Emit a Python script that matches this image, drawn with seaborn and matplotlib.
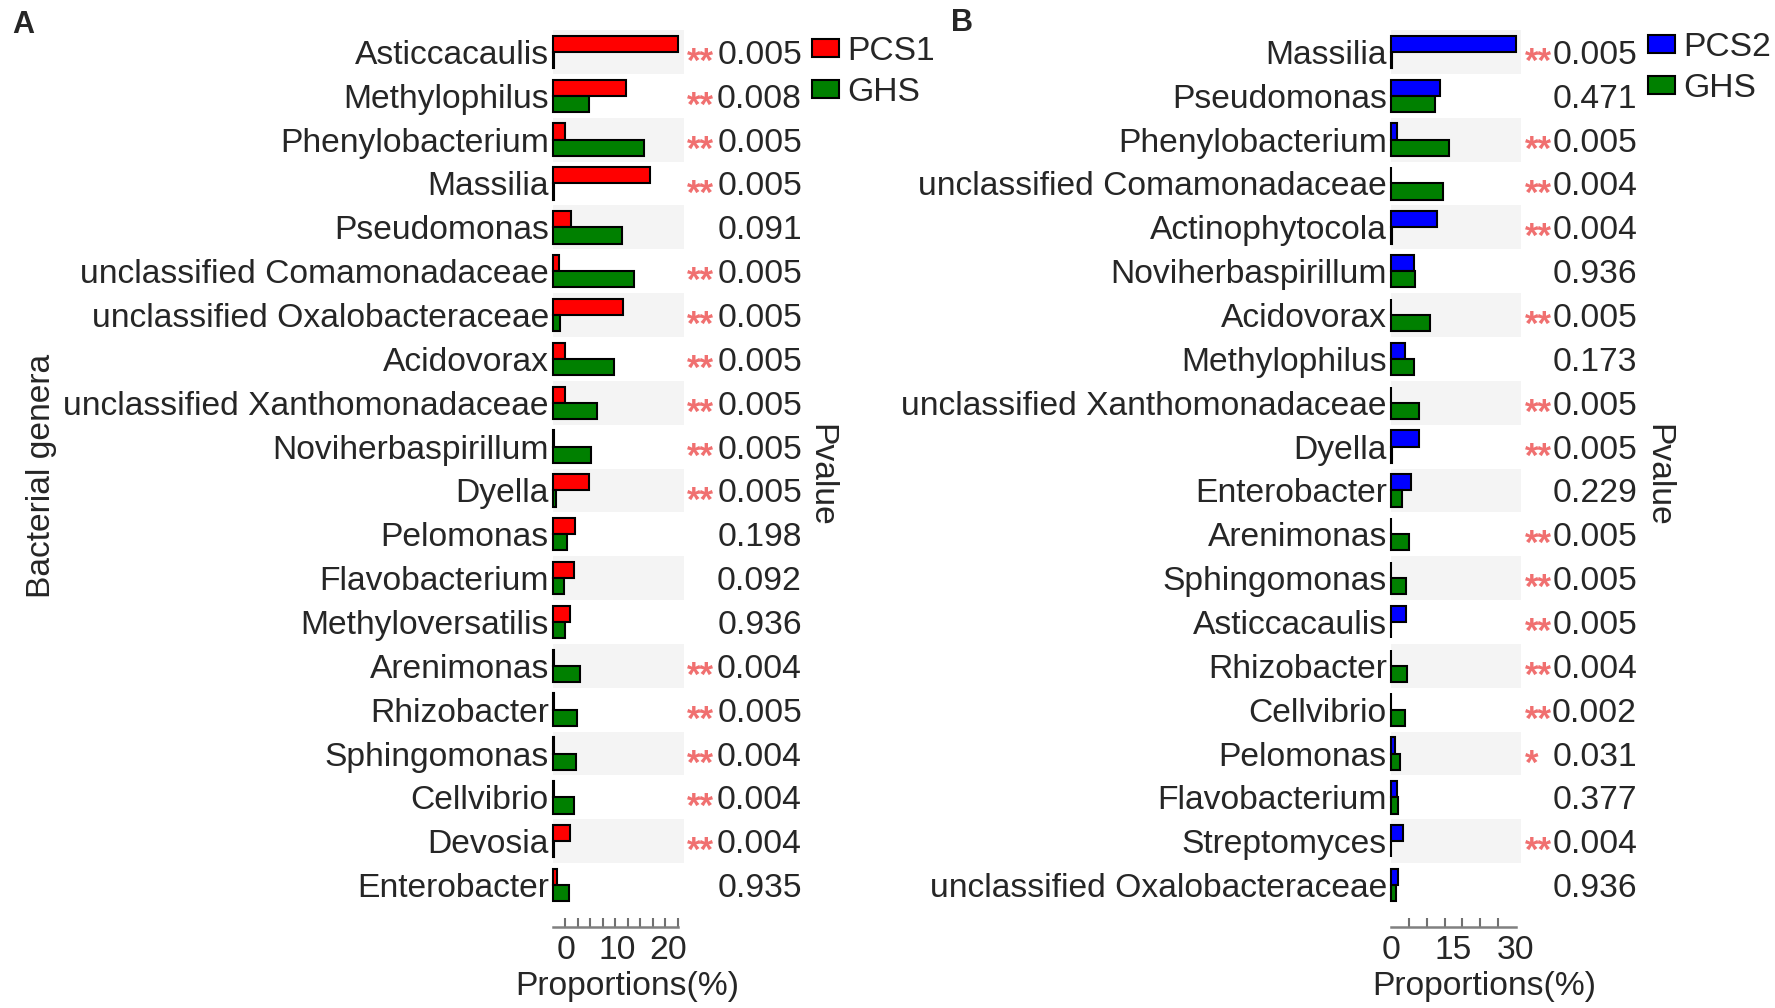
import matplotlib
matplotlib.use('Agg')
import matplotlib.pyplot as plt
import matplotlib.transforms as mtransforms
import seaborn as sns
import numpy as np
import pandas as pd

# Panel A: PCS1 vs GHS
genera_a = ['Asticcacaulis', 'Methylophilus', 'Phenylobacterium', 'Massilia', 'Pseudomonas',
            'unclassified Comamonadaceae', 'unclassified Oxalobacteraceae', 'Acidovorax',
            'unclassified Xanthomonadaceae', 'Noviherbaspirillum', 'Dyella', 'Pelomonas',
            'Flavobacterium', 'Methyloversatilis', 'Arenimonas', 'Rhizobacter', 'Sphingomonas',
            'Cellvibrio', 'Devosia', 'Enterobacter']
pcs1_a = [24.5, 14.3, 2.4, 19.0, 3.5, 1.2, 13.7, 2.4, 2.4, 0.1, 7.1, 4.3, 4.1, 3.3,
          0.1, 0.1, 0.1, 0.1, 3.3, 0.8]
ghs_a = [0.2, 7.1, 17.8, 0.2, 13.5, 15.9, 1.4, 12.0, 8.6, 7.5, 0.5, 2.7, 2.2, 2.4,
         5.3, 4.7, 4.5, 4.1, 0.2, 3.1]
pvalues_a = ['0.005', '0.008', '0.005', '0.005', '0.091', '0.005', '0.005', '0.005', '0.005',
             '0.005', '0.005', '0.198', '0.092', '0.936', '0.004', '0.005', '0.004', '0.004',
             '0.004', '0.935']
stars_a = ['**', '**', '**', '**', '', '**', '**', '**', '**', '**', '**', '', '', '',
           '**', '**', '**', '**', '**', '']

# Panel B: PCS2 vs GHS
genera_b = ['Massilia', 'Pseudomonas', 'Phenylobacterium', 'unclassified Comamonadaceae',
            'Actinophytocola', 'Noviherbaspirillum', 'Acidovorax', 'Methylophilus',
            'unclassified Xanthomonadaceae', 'Dyella', 'Enterobacter', 'Arenimonas',
            'Sphingomonas', 'Asticcacaulis', 'Rhizobacter', 'Cellvibrio', 'Pelomonas',
            'Flavobacterium', 'Streptomyces', 'unclassified Oxalobacteraceae']
pcs2_b = [30.0, 11.7, 1.4, 0.1, 11.0, 5.6, 0.1, 3.4, 0.1, 6.6, 4.9, 0.1, 0.1, 3.7,
          0.1, 0.1, 1.0, 1.4, 2.9, 1.6]
ghs_b = [0.2, 10.5, 13.8, 12.4, 0.2, 5.8, 9.4, 5.4, 6.6, 0.2, 2.6, 4.2, 3.6, 0.1,
         3.8, 3.4, 2.2, 1.6, 0.1, 1.3]
pvalues_b = ['0.005', '0.471', '0.005', '0.004', '0.004', '0.936', '0.005', '0.173', '0.005',
             '0.005', '0.229', '0.005', '0.005', '0.005', '0.004', '0.002', '0.031', '0.377',
             '0.004', '0.936']
stars_b = ['**', '', '**', '**', '**', '', '**', '', '**', '**', '', '**', '**', '**',
           '**', '**', '*', '', '**', '']

W, H = 1775, 1008
FS = 24.2
STAR_FS = 25

sns.set_style('white')
plt.rcParams['font.family'] = ['Liberation Sans', 'DejaVu Sans']


def px_rect(left, top, right, bottom):
    """Figure-fraction rect from pixel box."""
    return [left / W, 1 - bottom / H, (right - left) / W, (bottom - top) / H]


def draw_panel(fig, rect, genera, treat, ghs, pvals, stars, treat_name, treat_color,
               xmax, axis_max, major_ticks, n_minor, label_shift, star_x, pval_x,
               pvalue_label_x, prop_label_x, legend_xy):
    ax = fig.add_axes(rect)
    df = pd.DataFrame({
        'genus': genera * 2,
        'value': list(treat) + list(ghs),
        'group': [treat_name] * len(genera) + ['GHS'] * len(genera),
    })
    sns.barplot(data=df, y='genus', x='value', hue='group', orient='h', order=genera,
                hue_order=[treat_name, 'GHS'],
                palette={treat_name: treat_color, 'GHS': '#008000'},
                width=0.74, edgecolor='black', linewidth=1.5, saturation=1, ax=ax)
    for p in ax.patches:
        p.set_clip_on(False)
    handles, labels = ax.get_legend_handles_labels()
    if ax.get_legend() is not None:
        ax.get_legend().remove()

    # alternating grey bands
    for i in range(0, len(genera), 2):
        ax.axhspan(i - 0.5, i + 0.5, color='#f4f4f4', zorder=0, lw=0)

    ax.set_xlim(0, xmax)
    ax.set_ylim(len(genera) - 0.5, -0.5)
    for s in ['top', 'right', 'left']:
        ax.spines[s].set_visible(False)
    ax.spines['bottom'].set_position(('outward', 14.4))
    ax.spines['bottom'].set_bounds(0, axis_max)
    ax.spines['bottom'].set_color('#808080')
    ax.spines['bottom'].set_linewidth(1.8)
    ax.set_xticks(major_ticks)
    ax.set_xticklabels([str(t) for t in major_ticks], fontsize=FS)
    ax.set_xticks(np.linspace(0, axis_max, n_minor), minor=True)
    ax.tick_params(axis='x', which='both', bottom=True)
    ax.tick_params(axis='x', which='major', length=0, pad=6)
    ax.tick_params(axis='x', which='minor', direction='in', length=6.5, width=1.5,
                   color='#707070')
    ax.tick_params(axis='y', length=0, pad=3, labelsize=FS)
    ax.set_xlabel('')
    ax.set_ylabel('')
    if label_shift:
        shift = mtransforms.ScaledTranslation(label_shift / 100, 0, fig.dpi_scale_trans)
        for lab in ax.get_xticklabels():
            lab.set_transform(lab.get_transform() + shift)

    # p-values and significance stars
    trans = mtransforms.blended_transform_factory(fig.transFigure, ax.transData)
    star_trans = mtransforms.offset_copy(trans, fig=fig, y=-0.2 * STAR_FS, units='points')
    for i, (pv, st) in enumerate(zip(pvals, stars)):
        ax.text(pval_x / W, i, pv, transform=trans, ha='right', va='center_baseline',
                fontsize=FS)
        if st:
            ax.text(star_x / W, i, st, transform=star_trans, ha='left',
                    va='center_baseline', fontsize=STAR_FS, fontweight='bold',
                    color='#f07070')

    fig.text(pvalue_label_x / W, 1 - 475 / H, 'Pvalue', rotation=270, ha='center',
             va='center', fontsize=FS)
    fig.text(prop_label_x / W, 1 - 987 / H, 'Proportions(%)', ha='center', va='center',
             fontsize=FS)
    fig.legend(handles, labels, loc='upper left',
               bbox_to_anchor=(legend_xy[0] / W, 1 - legend_xy[1] / H),
               frameon=False, fontsize=FS, handlelength=0.8, handleheight=0.45,
               handletextpad=0.25, labelspacing=0.3, borderpad=0, borderaxespad=0)
    return ax


fig = plt.figure(figsize=(W / 100, H / 100), dpi=100)

draw_panel(fig, px_rect(553, 30, 684, 907), genera_a, pcs1_a, ghs_a, pvalues_a, stars_a,
           'PCS1', '#ff0000', 131 / 5.1, 24.5, [0, 10, 20], 11, 13,
           687, 802, 821, 627, (812, 36))
draw_panel(fig, px_rect(1391, 30, 1521, 907), genera_b, pcs2_b, ghs_b, pvalues_b, stars_b,
           'PCS2', '#0000ff', 130 / 4.167, 30, [0, 15, 30], 8, 0,
           1525, 1637, 1658, 1484, (1648, 32))

fig.text(42 / W, 1 - 476 / H, 'Bacterial genera', rotation=90, ha='center', va='center',
         fontsize=FS)
fig.text(23 / W, 1 - 25 / H, 'A', ha='center', va='center', fontsize=22, fontweight='bold')
fig.text(962 / W, 1 - 23 / H, 'B', ha='center', va='center', fontsize=22, fontweight='bold')

fig.savefig('out.png', dpi=100)
plt.close(fig)
